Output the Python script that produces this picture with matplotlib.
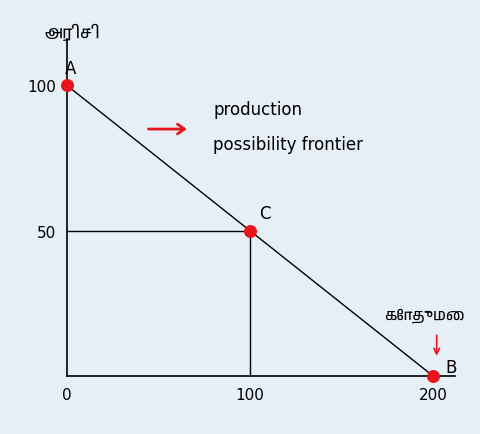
import matplotlib
matplotlib.use("Agg")
import matplotlib.pyplot as plt
from matplotlib import font_manager as fm

names = sorted({f.name for f in fm.fontManager.ttflist})
tamil = [n for n in names if 'Tamil' in n]
fam = tamil + ['Noto Sans', 'DejaVu Sans']

frontier_x = [0, 200]
frontier_y = [100, 0]
pt_labels = ['A', 'C', 'B']
pt_x = [0, 100, 200]
pt_y = [100, 50, 0]
xticks = [0, 100, 200]
yticks = [50, 100]

bg = '#e6eef6'
fig = plt.figure(figsize=(4.8, 4.35), dpi=100, facecolor=bg)
ax = fig.add_axes([67/480, 58/435, 388/480, 337/435])
ax.set_facecolor(bg)
ax.set_xlim(0, 212)
ax.set_ylim(0, 116)
for s in ['top', 'right']:
    ax.spines[s].set_visible(False)
for s in ['left', 'bottom']:
    ax.spines[s].set_linewidth(1.2)
ax.set_xticks(xticks)
ax.set_yticks(yticks)
ax.tick_params(length=0, labelsize=11, pad=8)

ax.plot(frontier_x, frontier_y, color='black', lw=1, zorder=2)
ax.plot([0, 100, 100], [50, 50, 0], color='black', lw=1, zorder=2)
ax.scatter(pt_x, pt_y, s=70, color='#e8141c', zorder=3, clip_on=False)
offs = {'A': (2, 6), 'C': (8, 6), 'B': (10, 3)}
for l, x, y in zip(pt_labels, pt_x, pt_y):
    ax.text(x + offs[l][0], y + offs[l][1], l, fontsize=12, ha='center', va='center')

ax.annotate('', xy=(67, 85), xytext=(43, 85),
            arrowprops=dict(arrowstyle='->,head_width=0.35,head_length=0.5', color='#e8141c', lw=2))
ax.text(80, 92, 'production', fontsize=12, va='center')
ax.text(80, 80, 'possibility frontier', fontsize=12, va='center')

ax.annotate('', xy=(202, 6), xytext=(202, 15),
            arrowprops=dict(arrowstyle='->', color='#e8141c', lw=1.2))
ax.text(195, 21, 'கோதுமை', fontsize=11, ha='center', va='center', family=fam)
fig.text(72/480, 1 - 32/435, 'அரிசி', fontsize=12, ha='center', va='center', family=fam)

fig.savefig('out.png', dpi=100, facecolor=bg)
